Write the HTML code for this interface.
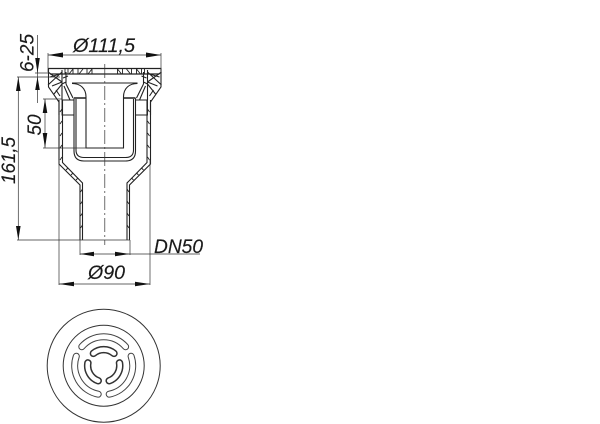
<!DOCTYPE html>
<html><head><meta charset="utf-8">
<style>
html,body{margin:0;padding:0;background:#fff;width:600px;height:424px;overflow:hidden}
svg{display:block}
text{font-family:"Liberation Sans",sans-serif;font-style:italic;font-size:19px;fill:#1a1a1a;stroke:#1a1a1a;stroke-width:.15}
</style></head><body>
<svg width="600" height="424" viewBox="0 0 600 424" xmlns="http://www.w3.org/2000/svg">
<defs>
<g id="half" fill="none" stroke="#222" stroke-width="0.9">
  <!-- flange -->
  <path d="M48 68.5H105M50 74H105" stroke-width="1.2"/>
  <path d="M65 68.5V74M68 68.5V74M73 68.5V74M78 68.5V74M87 68.5V74M92 68.5V74M69 74L73 69M79 74L83 69M88 74L92 69"/>
  <!-- left section of the rim -->
  <path d="M48.5 69V87L59 102V115M62 72L48 85M48 72L62 82M52 86L62 82M54 94L62 84M50 77L60 74M56 90L60 96" stroke-width="1.1"/>
  <path d="M62 70V100M66 72V84M62 84L66 82M66 84L73 98M64 86L70 100M68 76L63 78M62 100H74" stroke-width="1.1"/>
  <path d="M72 83H105"/>
  <path d="M62 100V115H74" />
  <!-- outer body wall -->
  <path d="M59 100V164L80 185V240" stroke-width="1.1"/>
  <path d="M62.5 100V162.5L82.5 183V240" stroke-width="1.1"/>
  <path d="M60 112l2-3M60 124l2-3M60 136l2-3M60 148l2-3M60 160l2-3M66 170l2-2M71 175l2-2M76 180l2-2M80.5 192l2-3M80.5 204l2-3M80.5 216l2-3M80.5 228l2-3"/>
  <!-- cup -->
  <path d="M74 98V151Q74 161 84 161H105" stroke-width="1.1"/>
  <path d="M76 98V150Q76 157.5 84 157.5H105" stroke-width="1.1"/>
  <path d="M74 98H86" stroke-width="2" stroke="#555"/>
  <!-- inner tube -->
  <path d="M72 83.5C80 83.5 86 88 86 97V148H105" stroke-width="1.1"/>
</g>
</defs>
<rect width="600" height="424" fill="#fff"/>

<use href="#half"/>
<use href="#half" transform="translate(209.5 0) scale(-1 1)"/>

<!-- centre line -->
<path d="M104.8 64V245" stroke="#333" stroke-width="0.7" stroke-dasharray="14 3 2 3" fill="none"/>

<!-- dimension lines -->
<g fill="none" stroke="#333" stroke-width="0.7">
  <path d="M48 53V72M161 53V72M48 55H161"/>
  <path d="M37.5 35V103M35 73H50M17 77H60"/>
  <path d="M18.3 77V240M17 240H130"/>
  <path d="M45 99V148M43 99H62M43 148H86"/>
  <path d="M80 240V255M130 240V255M80 254H200"/>
  <path d="M59 160V285M150 160V285M59 284H150"/>
</g>

<!-- arrowheads -->
<g fill="#111" stroke="none">
  <path d="M48 55L63 52.5V57.5ZM161 55L146 52.5V57.5Z"/>
  <path d="M37.5 73L35.2 58H39.8ZM37.5 77L35.2 90H39.8Z"/>
  <path d="M18.3 77L16 91H20.6ZM18.3 240L16 226H20.6Z"/>
  <path d="M45 99L42.7 113H47.3ZM45 148L42.7 133H47.3Z"/>
  <path d="M80 254L94 251.7V256.3ZM130 254L115 251.7V256.3Z"/>
  <path d="M59 284L74 281.7V286.3ZM150 284L135 281.7V286.3Z"/>
</g>

<!-- labels -->
<text x="73" y="52" textLength="62" lengthAdjust="spacingAndGlyphs">Ø111,5</text>
<text transform="translate(33.5 72) rotate(-90)" textLength="38" lengthAdjust="spacingAndGlyphs">6-25</text>
<text transform="translate(41 135.5) rotate(-90)" textLength="21" lengthAdjust="spacingAndGlyphs">50</text>
<text transform="translate(15 184) rotate(-90)" textLength="47" lengthAdjust="spacingAndGlyphs">161,5</text>
<text x="154" y="253" textLength="49" lengthAdjust="spacingAndGlyphs">DN50</text>
<text x="88" y="279" textLength="37" lengthAdjust="spacingAndGlyphs">Ø90</text>

<!-- bottom view -->
<g fill="none" transform="translate(103.7 365.7)">
  <circle r="56.5" stroke="#333" stroke-width="1"/>
  <circle r="40.5" stroke="#333" stroke-width="1"/>
  <g stroke-linecap="round">
    <g id="outer">
      <path d="M-21.9 -19A29 29 0 0 1 21.9 -19" stroke="#444" stroke-width="7"/>
      <path d="M-21.9 -19A29 29 0 0 1 21.9 -19" stroke="#fff" stroke-width="5"/>
    </g>
    <use href="#outer" transform="rotate(120)"/>
    <use href="#outer" transform="rotate(240)"/>
    <g id="inner">
      <path d="M-10.3 -12.3A16 16 0 0 1 10.3 -12.3" stroke="#333" stroke-width="7.5"/>
      <path d="M-10.3 -12.3A16 16 0 0 1 10.3 -12.3" stroke="#fff" stroke-width="4.5"/>
    </g>
    <use href="#inner" transform="rotate(120)"/>
    <use href="#inner" transform="rotate(240)"/>
  </g>
</g>
</svg>
</body></html>
